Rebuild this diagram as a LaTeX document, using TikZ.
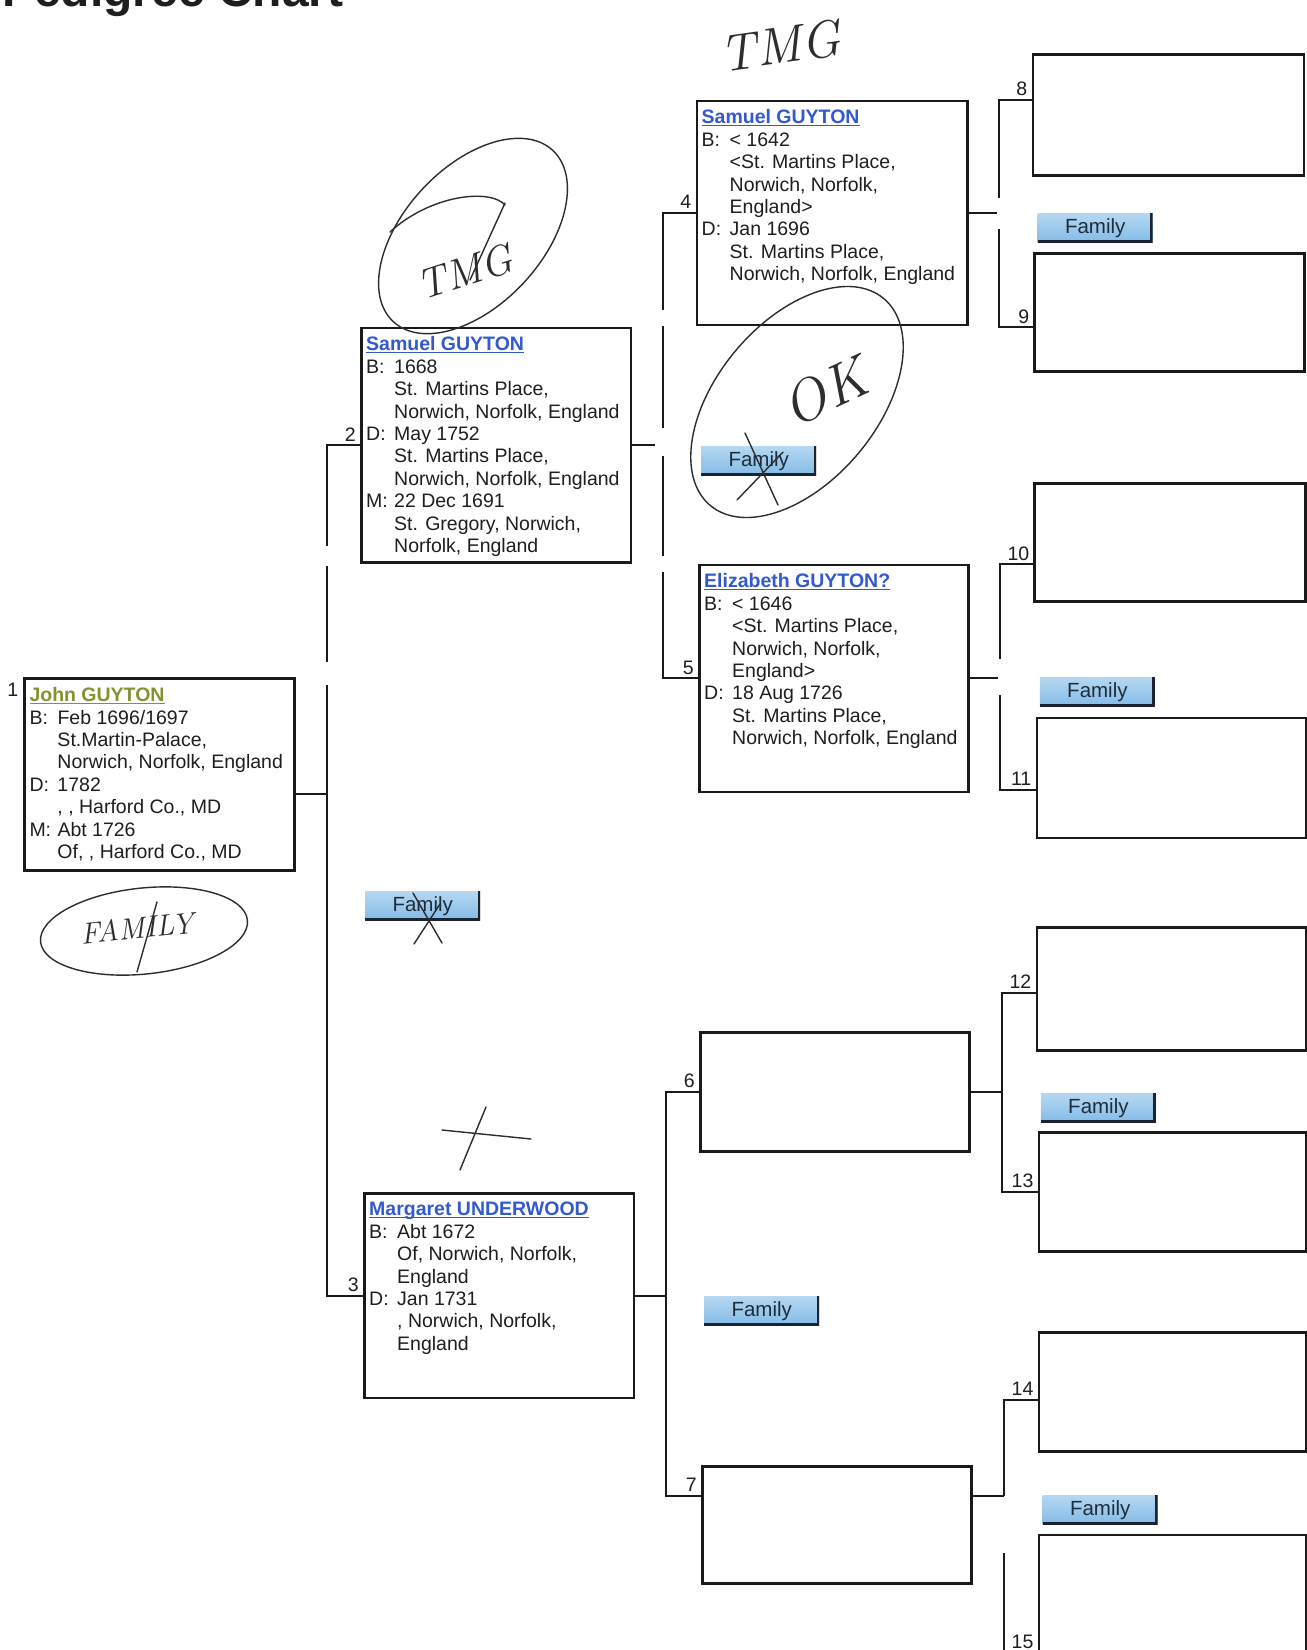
\documentclass[tikz,border=0pt]{standalone}
\usepackage{fontspec}
\setmainfont{Liberation Sans}
\newfontfamily\handfont{Latin Modern Roman}
\usetikzlibrary{calc}

\definecolor{inkline}{RGB}{26,26,26}
\definecolor{textdark}{RGB}{30,30,30}
\definecolor{nameblue}{RGB}{50,90,205}
\definecolor{nameolive}{RGB}{135,145,45}
\definecolor{tabtop}{RGB}{182,216,242}
\definecolor{tabbot}{RGB}{130,186,230}
\definecolor{tabedge}{RGB}{25,35,50}
\definecolor{tabtext}{RGB}{30,45,60}
\definecolor{pencil}{RGB}{45,45,45}

% Name line of a person box: bold, coloured and underlined.
\newlength{\pnamewd}
\newcommand{\pname}[2]{\settowidth{\pnamewd}{\bfseries #2}%
  {\color{#1}\bfseries\rlap{\rule[-2.6pt]{\pnamewd}{1.2pt}}#2}}
\newcommand{\evt}[1]{\makebox[28pt][l]{#1}}
\newcommand{\evcont}{\hspace*{28pt}}

\begin{document}
\begin{tikzpicture}[
  person/.style={draw=inkline, line width=2.8pt, anchor=north west, inner sep=0pt},
  persontext/.style={anchor=north west, inner sep=0pt, align=left, text=textdark,
    font=\fontsize{19.5}{22.4}\selectfont},
  gennum/.style={anchor=south east, inner sep=0pt, text=textdark,
    font=\fontsize{19.5}{22.4}\selectfont},
  link/.style={draw=inkline, line width=2pt},
  famtab/.style={anchor=north west, minimum width=115pt, minimum height=29.5pt,
    inner sep=0pt, top color=tabtop, bottom color=tabbot, text=tabtext,
    font=\fontsize{20.5}{22}\selectfont,
    path picture={\draw[tabedge, line width=5pt]
      (path picture bounding box.north east) -- (path picture bounding box.south east)
      -- (path picture bounding box.south west);}},
  scrawl/.style={draw=pencil, line width=1.4pt, line cap=round, line join=round},
  handtext/.style={text=pencil, inner sep=0pt}]
\begin{scope}[x=1pt, y=-1pt]
  % Fix the page to the size of the scanned sheet.
  \useasboundingbox (0,0) rectangle (1307,1650);
  \clip (0,0) rectangle (1307,1650);
  \fill[white] (0,0) rectangle (1307,1650);
  % Title, cut off by the top edge of the sheet.
  \node[anchor=base west, inner sep=0pt, text=textdark,
    font=\fontsize{48}{52}\selectfont\bfseries] (title) at (2,6) {Pedigree Chart};

  % Draw the person boxes, one column per generation.
  \node[person, minimum width=270pt, minimum height=192pt] (p1) at (23.3,677.3) {};
  \node[person, minimum width=269.5pt, minimum height=234.5pt] (p2) at (360,326.5) {};
  \node[person, minimum width=269.5pt, minimum height=204.5pt] (p3) at (363,1192) {};
  \node[person, minimum width=270.5pt, minimum height=224pt] (p4) at (695.5,99.5) {};
  \node[person, minimum width=269pt, minimum height=227pt] (p5) at (698,563.5) {};
  \node[person, minimum width=269pt, minimum height=119pt] (p6) at (699,1031) {};
  \node[person, minimum width=269pt, minimum height=117pt] (p7) at (701,1465) {};
  \node[person, minimum width=271pt, minimum height=121.5pt] (p8) at (1031.5,52.8) {};
  \node[person, minimum width=269.5pt, minimum height=118pt] (p9) at (1033.4,252) {};
  \node[person, minimum width=271pt, minimum height=118pt] (p10) at (1033.4,482) {};
  \node[person, minimum width=269.5pt, minimum height=120pt] (p11) at (1035.5,716.6) {};
  \node[person, minimum width=269.5pt, minimum height=123pt] (p12) at (1035.5,926) {};
  \node[person, minimum width=267.5pt, minimum height=119pt] (p13) at (1037.6,1131.3) {};
  \node[person, minimum width=267.5pt, minimum height=119pt] (p14) at (1037.6,1331.2) {};
  \node[person, minimum width=267.5pt, minimum height=140pt] (p15) at (1037.6,1533.5) {};

  % Fill in the known people.
  \node[persontext] (t1) at ($(p1.north west)+(6,10)$) {\pname{nameolive}{John GUYTON}\\
    \evt{B:}Feb 1696/1697\\ \evcont St.Martin-Palace,\\ \evcont Norwich, Norfolk, England\\
    \evt{D:}1782\\ \evcont , , Harford Co., MD\\
    \evt{M:}Abt 1726\\ \evcont Of, , Harford Co., MD};
  \node[persontext] (t2) at ($(p2.north west)+(6,10)$) {\pname{nameblue}{Samuel GUYTON}\\
    \evt{B:}1668\\ \evcont St. Martins Place,\\ \evcont Norwich, Norfolk, England\\
    \evt{D:}May 1752\\ \evcont St. Martins Place,\\ \evcont Norwich, Norfolk, England\\
    \evt{M:}22 Dec 1691\\ \evcont St. Gregory, Norwich,\\ \evcont Norfolk, England};
  \node[persontext] (t3) at ($(p3.north west)+(6,10)$) {\pname{nameblue}{Margaret UNDERWOOD}\\
    \evt{B:}Abt 1672\\ \evcont Of, Norwich, Norfolk,\\ \evcont England\\
    \evt{D:}Jan 1731\\ \evcont , Norwich, Norfolk,\\ \evcont England};
  \node[persontext] (t4) at ($(p4.north west)+(6,10)$) {\pname{nameblue}{Samuel GUYTON}\\
    \evt{B:}< 1642\\ \evcont <St. Martins Place,\\ \evcont Norwich, Norfolk,\\ \evcont England>\\
    \evt{D:}Jan 1696\\ \evcont St. Martins Place,\\ \evcont Norwich, Norfolk, England};
  \node[persontext] (t5) at ($(p5.north west)+(6,10)$) {\pname{nameblue}{Elizabeth GUYTON?}\\
    \evt{B:}< 1646\\ \evcont <St. Martins Place,\\ \evcont Norwich, Norfolk,\\ \evcont England>\\
    \evt{D:}18 Aug 1726\\ \evcont St. Martins Place,\\ \evcont Norwich, Norfolk, England};

  % Points where the connectors meet the boxes.
  \coordinate (c1) at ([yshift=-19pt]p1.east);
  \coordinate (c7w) at ([yshift=29pt]p7.west);
  \coordinate (c7e) at ([yshift=29pt]p7.east);
  \coordinate (c8) at ([yshift=15pt]p8.west);
  \coordinate (c9) at ([yshift=-15pt]p9.west);
  \coordinate (c10) at ([yshift=-22pt]p10.west);
  \coordinate (c11) at ([yshift=-12pt]p11.west);
  \coordinate (c12) at ([yshift=-4pt]p12.west);
  \coordinate (c13) at (p13.west);
  \coordinate (c14) at ([yshift=-8pt]p14.west);
  \coordinate (c15) at ([yshift=-47.5pt]p15.west);
  \coordinate (jA) at (327,0);
  \coordinate (jB) at (663,0);
  \coordinate (jC) at (666,0);
  \coordinate (jD) at (999,0);
  \coordinate (jE) at (1000,0);
  \coordinate (jF) at (1002,0);
  \coordinate (jG) at (1004,0);

  % Draw the connectors; the broken stretches follow the printed chart.
  \draw[link, dash pattern=on 134pt off 20pt on 96pt off 23pt on 2000pt]
    (p2.west) -- (p2.west -| jA) -- (p3.west -| jA) -- (p3.west);
  \draw[link] (c1) -- (c1 -| jA);
  \draw[link, dash pattern=on 130pt off 16pt on 102pt off 28pt on 100pt off 16pt on 300pt]
    (p4.west) -- (p4.west -| jB) -- (p5.west -| jB) -- (p5.west);
  \draw[link] (p2.east) -- ($(p2.east -| jB)+(-8,0)$);
  \draw[link] (p6.west) -- (p6.west -| jC) -- (c7w -| jC) -- (c7w);
  \draw[link] (p3.east) -- (p3.east -| jC);
  \draw[link, dash pattern=on 131pt off 31pt on 300pt]
    (c8) -- (c8 -| jD) -- (c9 -| jD) -- (c9);
  \draw[link] (p4.east) -- ($(p4.east -| jD)+(-2,0)$);
  \draw[link, dash pattern=on 128pt off 36pt on 300pt]
    (c10) -- (c10 -| jE) -- (c11 -| jE) -- (c11);
  \draw[link] (p5.east) -- ($(p5.east -| jE)+(-2,0)$);
  \draw[link] (c12) -- (c12 -| jF) -- (c13 -| jF) -- (c13);
  \draw[link] (p6.east) -- (p6.east -| jF);
  \draw[link, dash pattern=on 129pt off 57pt on 300pt]
    (c14) -- (c14 -| jG) -- (c15 -| jG) -- (c15);
  \draw[link] (c7e) -- (c7e -| jG);

  % Number the people.
  \node[gennum] (n1) at ($(p1.north west)+(-5,19)$) {1};
  \node[gennum] (n2) at ($(p2.west)+(-4,-3)$) {2};
  \node[gennum] (n3) at ($(p3.west)+(-4,-4)$) {3};
  \node[gennum] (n4) at ($(p4.west)+(-4,-4)$) {4};
  \node[gennum] (n5) at ($(p5.west)+(-4,-4)$) {5};
  \node[gennum] (n6) at ($(p6.west)+(-4,-4)$) {6};
  \node[gennum] (n7) at ($(c7w)+(-4,-4)$) {7};
  \node[gennum] (n8) at ($(c8)+(-4,-4)$) {8};
  \node[gennum] (n9) at ($(c9)+(-4,-4)$) {9};
  \node[gennum] (n10) at ($(c10)+(-4,-4)$) {10};
  \node[gennum] (n11) at ($(c11)+(-4,-4)$) {11};
  \node[gennum] (n12) at ($(c12)+(-4,-4)$) {12};
  \node[gennum] (n13) at ($(c13)+(-4,-4)$) {13};
  \node[gennum] (n14) at ($(c14)+(-4,-4)$) {14};
  \node[gennum] (n15) at ($(c15)+(-4,-4)$) {15};

  % Family buttons.
  \node[famtab] (fam1) at (1037.5,213) {Family};
  \node[famtab] (fam2) at (701,446) {Family};
  \node[famtab] (fam3) at (1039.7,677) {Family};
  \node[famtab] (fam4) at (365,891) {Family};
  \node[famtab] (fam5) at (1040.7,1093) {Family};
  \node[famtab] (fam6) at (704,1296) {Family};
  \node[famtab] (fam7) at (1042.5,1495) {Family};

  % Pencil marks written on the printed sheet.
  \node[handtext, rotate=8, font=\fontsize{52}{56}\handfont\itshape] (sig1) at (780,46) {TMG};
  \draw[scrawl, rotate around={47:(473,236)}] (473,236) ellipse [x radius=117, y radius=69];
  \node[handtext, rotate=18, font=\fontsize{42}{46}\handfont\itshape] (sig2) at (465,272) {TMG};
  \draw[scrawl] (390,232) .. controls (430,195) and (490,188) .. (505,205);
  \draw[scrawl] (505,203) -- (470,280);
  \draw[scrawl, rotate around={50:(797,402)}] (797,402) ellipse [x radius=135, y radius=80];
  \node[handtext, rotate=25, font=\fontsize{58}{62}\handfont\itshape] (okmark) at (825,392) {OK};
  \draw[scrawl] (745,433) -- (778,505);
  \draw[scrawl] (737,500) -- (783,452);
  \draw[scrawl, rotate around={6:(144,931)}] (144,931) ellipse [x radius=104, y radius=43];
  \node[handtext, rotate=6, font=\fontsize{30}{34}\handfont\itshape] (fammark) at (137,928) {FAMILY};
  \draw[scrawl] (157,902) -- (137,972);
  \draw[scrawl] (413,893) -- (442,943);
  \draw[scrawl] (414,944) -- (440,904);
  \draw[scrawl] (442,1130) -- (531,1139);
  \draw[scrawl] (486,1107) -- (460,1170);
\end{scope}
\end{tikzpicture}
\end{document}
